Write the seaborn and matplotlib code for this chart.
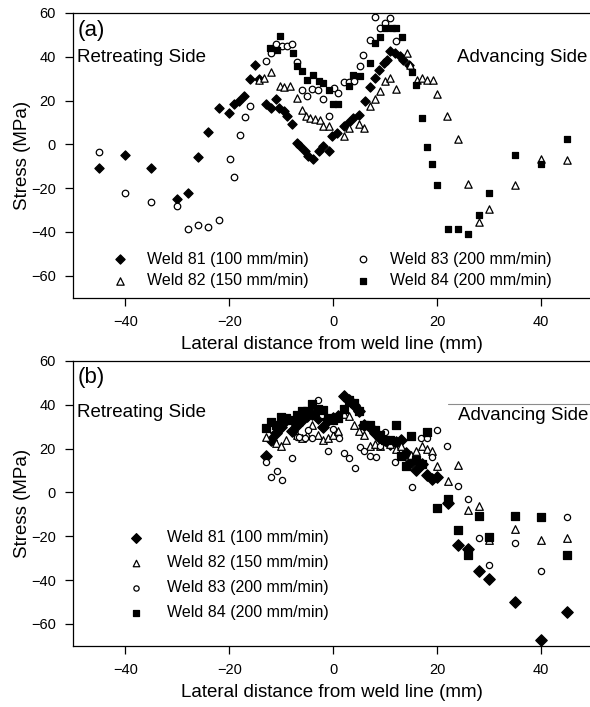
import matplotlib
matplotlib.use("Agg")
import matplotlib.pyplot as plt
import seaborn as sns

# ---------------- (a) ----------------
a_w81_x = [-45, -40, -35, -30, -28, -26, -24, -22, -20, -19, -18.2, -17.2, -16, -15, -14.2, -13, -12, -11,
           -10.5, -9.5, -8.9, -7.9, -7, -6.3, -5.4, -4.8, -3.8, -2.8, -1.9, -0.9, -0.3, 0.7, 2, 2.9, 3.9,
           4.9, 6.2, 7, 8.1, 8.9, 9.7, 10.4, 11, 11.9, 12.8, 13.4, 14.5]
a_w81_y = [-10.6, -5, -10.6, -25, -22, -6, 5.6, 16.4, 14.4, 18.2, 20, 22, 30, 36.4, 29.9, 18.5, 16.7, 20.5,
           16.7, 15.2, 12.9, 9.4, 0.8, -0.8, -3, -5.3, -6.8, -3, -0.8, -3, 3.8, 5.3, 8.3, 9.8, 12.1,
           13.6, 19.7, 26.2, 30.3, 34, 37.1, 38.6, 42.4, 41.7, 40.2, 38.6, 36.4]

a_w82_x = [-14.2, -13.3, -12, -10.2, -9.4, -8.4, -7, -6, -5.2, -4.4, -3.5, -2.6, -1.9, -0.9, 2, 3.1, 4.9,
           6, 7.1, 8.1, 9, 10, 11, 12.1, 14.2, 14.8, 16.1, 17.1, 18, 19.2, 19.9, 21.9, 24, 26, 28, 30,
           35, 40, 45]
a_w82_y = [29.5, 30.3, 32.9, 26.5, 26.2, 26.5, 21.2, 15.9, 12.9, 12.1, 11.4, 10.9, 8.6, 8.3, 3.8, 7.6, 9.1,
           7.6, 17.4, 20.5, 24.2, 28.8, 30.3, 25.3, 41.7, 36.4, 29.5, 30.3, 29.5, 29.5, 23, 12.9, 2.6,
           -18.2, -35.3, -29.5, -18.5, -6.8, -7.1]

a_w83_x = [-45, -40, -35, -30, -28, -26, -24, -21.9, -19.9, -19, -18, -16.9, -16, -12.9, -12, -11, -9.9,
           -8.9, -7.9, -7, -6, -5.1, -4.1, -3, -2, -0.9, 0.1, 1, 2, 3.1, 4, 5.1, 5.8, 7, 8.1, 9, 10, 11,
           12.1]
a_w83_y = [-3.3, -22.4, -26.2, -28.3, -38.6, -36.8, -37.9, -34.7, -6.8, -15.1, 4.1, 12.4, 17.7, 38.2, 41.7,
           45.8, 45, 44.7, 45.8, 37.4, 24.7, 22, 25.3, 25, 20.8, 12.9, 25.8, 23.5, 28.3, 28.3, 28.8,
           35.9, 40.9, 47.7, 58.3, 53, 55.3, 57.6, 47.4]

a_w84_x = [-12.2, -10.8, -10.2, -7.8, -6.9, -6, -5.1, -3.8, -2.8, -1.9, -0.9, -0.1, 1, 3.1, 3.9, 5.1, 7.1,
           8.1, 9, 10, 11.3, 12.1, 13.2, 15.1, 16, 17.1, 18, 19, 19.9, 22, 24, 26, 28, 30, 35, 40, 45]
a_w84_y = [44.2, 43.2, 49.5, 41.7, 35.6, 33.3, 29.5, 31.8, 28.8, 28, 25, 18.2, 18.6, 26.5, 31.8, 31, 37.1,
           46.2, 49.2, 53, 53, 53, 49.2, 32.9, 27.3, 12.1, -1.2, -9.1, -18.5, -38.6, -38.6, -40.9,
           -32.1, -22, -5, -9.1, 2.3]

# ---------------- (b) ----------------
b_w81_x = [-13, -12, -11, -10, -9, -8, -7, -6, -5, -4, -3, -2, -1, 0, 1, 2, 3, 4, 5, 6, 7, 8, 9, 10, 11,
           12, 13, 14, 15, 16, 17, 18, 19, 20, 22, 24, 26, 28, 30, 35, 40, 45]
b_w81_y = [16.4, 24, 27, 30, 33, 28, 31, 33, 35, 36, 34, 30, 33, 34, 35, 44, 42, 40, 37, 31, 30, 27, 25,
           24, 22, 23, 24, 18, 14, 10, 13, 8, 6, 7, -5, -24, -26, -36, -39.5, -50, -67.5, -54.5]

b_w82_x = [-13, -11, -10, -9, -7, -6, -5, -4, -3, -2, -1, 0, 1, 2, 3, 4, 5, 6, 7, 8, 9, 10, 11, 12, 13,
           14, 15, 16, 17, 18, 19, 20, 22, 24, 26, 28, 30, 35, 40, 45]
b_w82_y = [25.5, 22.5, 21, 24, 26, 25, 26, 31, 26, 24, 25, 26, 28, 36, 35, 31, 28, 26, 21, 22, 21, 24,
           22, 20, 21, 13, 17, 19, 21, 20, 19, 12, 5, 12.5, -8, -6, -21.6, -16.5, -21.6, -20.6]

b_w83_x = [-13, -12, -10.9, -9.9, -8, -7, -6.5, -5.5, -4.9, -4.1, -3, -2.1, -1, 0, 1.2, 2, 3.1, 4.1, 5.1,
           6, 7.1, 8.2, 9, 10, 11.9, 15.1, 16.9, 18, 19, 20, 21.9, 24, 25.9, 28, 30, 35, 40, 45]
b_w83_y = [14.1, 7.2, 9.8, 5.7, 15.9, 25.5, 25.4, 25, 28.6, 24.7, 42.4, 35.5, 19, 28.9, 24.8, 18.2, 15.9,
           11.3, 20.6, 18.7, 16.4, 16, 21, 27.8, 14.1, 2.6, 24.8, 24.8, 16, 28.3, 21.3, 3.1, -3.2,
           -20.6, -33, -23.1, -35.9, -11.2]

b_w84_x = [-13, -12, -11, -10, -9, -8, -7, -6, -5, -4, -3, -2, -1, 0, 1, 2, 3, 4, 5, 6, 7, 8, 9, 10, 11,
           12, 13, 14, 15, 16, 17, 18, 20, 22, 24, 26, 28, 30, 35, 40, 45]
b_w84_y = [29.4, 32, 31, 34.4, 34, 33, 35.5, 37, 37, 40.5, 38, 37.8, 34, 33, 34, 38, 42.4, 40.8, 37, 31,
           30.9, 28.6, 26, 24, 24, 30.6, 16.4, 12.1, 25.8, 14.8, 13, 27.4, -7.3, -3.1, -17.3, -28.7,
           -10.9, -20.3, -10.9, -11.2, -28.7]

labels = ["Weld 81 (100 mm/min)", "Weld 82 (150 mm/min)",
          "Weld 83 (200 mm/min)", "Weld 84 (200 mm/min)"]
x_ticks = [-40, -20, 0, 20, 40]
y_ticks = [-60, -40, -20, 0, 20, 40, 60]

sns.set_style("ticks")
plt.rcParams["font.family"] = ["Liberation Sans", "DejaVu Sans"]
plt.rcParams["axes.linewidth"] = 0.9
plt.rcParams["text.color"] = "black"
plt.rcParams["axes.labelcolor"] = "black"
plt.rcParams["xtick.color"] = "black"
plt.rcParams["ytick.color"] = "black"

fig = plt.figure(figsize=(5.9, 7.07), dpi=100)
ax_a = fig.add_axes([0.1242, 0.5790, 0.8758, 0.4027])
ax_b = fig.add_axes([0.1242, 0.0867, 0.8758, 0.4027])

# marker, face colour, size in panel a, size in panel b
styles = [("D", "black", 22, 34),
          ("^", "white", 28, 30),
          ("o", "white", 22, 20),
          ("s", "black", 19, 28)]


def draw(ax, series, panel):
    # diamonds first, then squares, then the open markers on top
    for idx in [0, 3, 1, 2]:
        xs, ys = series[idx]
        marker, face, s_a, s_b = styles[idx]
        sns.scatterplot(x=xs, y=ys, ax=ax, marker=marker, s=s_a if panel == "a" else s_b,
                        color=face, edgecolor="black", linewidth=0.9, label=labels[idx],
                        zorder=3 + idx, legend=False)
    ax.set_xlim(-50, 49.4)
    ax.set_ylim(-70, 60)
    ax.set_xticks(x_ticks)
    ax.set_yticks(y_ticks)
    ax.tick_params(direction="out", length=6, width=0.9, pad=6.5, labelsize=10.5,
                   colors="black")
    for side in ["left", "bottom", "top"]:
        ax.spines[side].set_color("black")
        ax.spines[side].set_linewidth(0.9)
    ax.spines["right"].set_visible(False)
    ax.set_xlabel("Lateral distance from weld line (mm)", fontsize=13.5, labelpad=5)
    ax.set_ylabel("Stress (MPa)", fontsize=13.5, labelpad=0)


draw(ax_a, [(a_w81_x, a_w81_y), (a_w82_x, a_w82_y), (a_w83_x, a_w83_y), (a_w84_x, a_w84_y)], "a")
draw(ax_b, [(b_w81_x, b_w81_y), (b_w82_x, b_w82_y), (b_w83_x, b_w83_y), (b_w84_x, b_w84_y)], "b")


def ordered_handles(ax):
    h, l = ax.get_legend_handles_labels()
    lookup = dict(zip(l, h))
    return [lookup[k] for k in labels]


ax_a.legend(ordered_handles(ax_a), labels, ncol=2, loc="upper left",
            bbox_to_anchor=(0.075, 0.162), frameon=False, fontsize=11.5,
            borderpad=0, borderaxespad=0, handlelength=1.0, handletextpad=1.2,
            columnspacing=2.9, labelspacing=0.42)
ax_b.legend(ordered_handles(ax_b), labels, ncol=1, loc="upper left",
            bbox_to_anchor=(0.106, 0.405), frameon=False, fontsize=11.5,
            borderpad=0, borderaxespad=0, handlelength=1.0, handletextpad=1.45,
            labelspacing=0.62, markerscale=0.85)

# panel tags and side annotations
ax_a.text(0.008, 0.94, "(a)", transform=ax_a.transAxes, fontsize=16, va="center", ha="left")
ax_a.text(0.008, 0.842, "Retreating Side", transform=ax_a.transAxes, fontsize=13.5,
          va="center", ha="left")
ax_a.text(0.994, 0.845, "Advancing Side", transform=ax_a.transAxes, fontsize=13.5,
          va="center", ha="right")

ax_b.text(0.008, 0.941, "(b)", transform=ax_b.transAxes, fontsize=16, va="center", ha="left")
ax_b.text(0.008, 0.818, "Retreating Side", transform=ax_b.transAxes, fontsize=13.5,
          va="center", ha="left")
ax_b.text(0.996, 0.81, "Advancing Side", transform=ax_b.transAxes, fontsize=13.5,
          va="center", ha="right")
ax_b.axhline(40.5, xmin=(22.1 + 50) / 99.4, xmax=1, color="0.55", lw=0.8)

fig.savefig("out.png", dpi=100)
